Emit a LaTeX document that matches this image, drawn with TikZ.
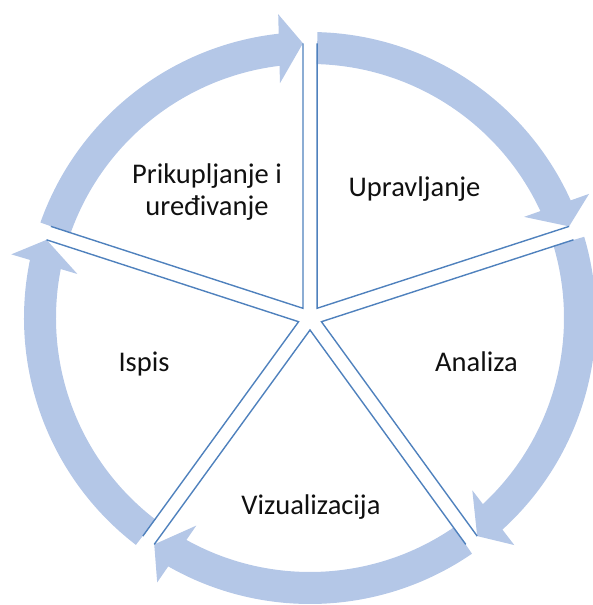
\documentclass[tikz,border=0pt]{standalone}
\usepackage{fontspec}
\setmainfont{Carlito}
\usetikzlibrary{calc}
\definecolor{bandblue}{RGB}{180,199,231}
\definecolor{edgeblue}{RGB}{79,129,189}
\definecolor{txt}{RGB}{16,16,16}
\begin{document}
\begin{tikzpicture}[
  band/.style={fill=bandblue, draw=none},
  wedgeedge/.style={draw=edgeblue, line width=1.4pt, line join=miter},
  lbl/.style={text=txt, font=\fontsize{28.5}{32}\selectfont, inner sep=0pt, align=center}
]
\useasboundingbox (0,0) rectangle (592pt,605pt);
\coordinate (C) at (310pt,287pt);
\foreach \a [count=\i] in {18,90,162,234,306}{
  \pgfmathsetmacro{\b}{\a+72}
  \pgfmathsetmacro{\m}{\a+36}
  \pgfmathsetmacro{\s}{\b-1.5}
  \pgfmathsetmacro{\ph}{\a+1.47}
  \pgfmathsetmacro{\e}{\a+6}
  \pgfmathsetmacro{\phb}{\ph+90}
  \pgfmathsetmacro{\phc}{\ph+180}
  \coordinate (A\i) at ($(C)+(\m:12pt)$);
  \coordinate (Pb\i) at ($(A\i)+(\b:265pt)$);
  \coordinate (Pa\i) at ($(A\i)+(\a:265pt)$);
  \coordinate (B\i) at ($(C)+(\ph:270pt)+(\phb:24pt)$);
  \fill[band] ($(C)+(\s:286pt)$) arc[start angle=\s, end angle=\e, radius=286pt]
     -- ($(C)+(\e:254pt)$) arc[start angle=\e, end angle=\s, radius=254pt] -- cycle;
  \fill[band] (Pa\i) -- ($(B\i)+(\ph:34.5pt)$) -- ($(B\i)+(\phc:34.5pt)$) -- cycle;
}
\foreach \i in {1,...,5}{
  \draw[wedgeedge] (Pb\i) -- (A\i) -- (Pa\i);
}
\node[lbl, anchor=base] (upr) at (414.5pt,408pt) {Upravljanje};
\node[lbl] (pri) at (207pt,413pt) {Prikupljanje i\\uređivanje};
\node[lbl, anchor=base] (isp) at (144pt,233pt) {Ispis};
\node[lbl, anchor=base] (ana) at (476.5pt,233pt) {Analiza};
\node[lbl, anchor=base] (viz) at (311pt,90pt) {Vizualizacija};
\end{tikzpicture}
\end{document}
